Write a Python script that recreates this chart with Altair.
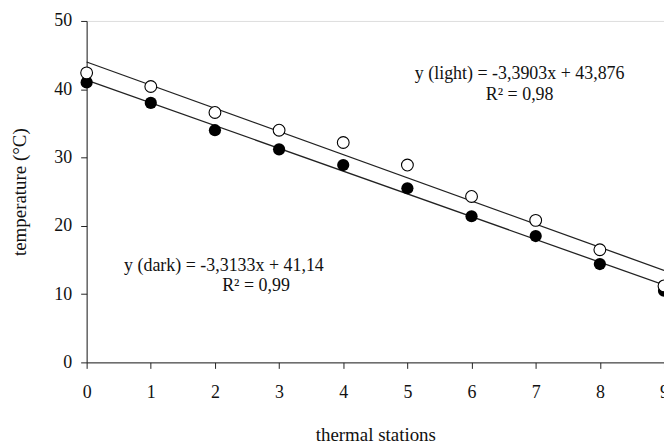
import altair as alt
import pandas as pd

stations = [0, 1, 2, 3, 4, 5, 6, 7, 8, 9]
light = [42.4, 40.4, 36.6, 34.0, 32.2, 28.9, 24.3, 20.8, 16.5, 11.2]
dark = [41.0, 38.0, 34.0, 31.2, 28.9, 25.5, 21.4, 18.5, 14.4, 10.5]

ann_text = ["y (light)  = -3,3903x + 43,876", "R² = 0,98",
            "y (dark) = -3,3133x + 41,14", "R² = 0,99"]
ann_x = [6.75, 6.75, 2.14, 2.64]
ann_y = [42.3, 39.2, 14.1, 11.2]

df = pd.DataFrame({"station": stations, "light": light, "dark": dark})
ann = pd.DataFrame({"text": ann_text, "x": ann_x, "y": ann_y})

FONT = "Liberation Serif"

xs = alt.Scale(domain=[0, 9], nice=False, zero=False)
ys = alt.Scale(domain=[0, 50], nice=False)

xax = alt.Axis(title="thermal stations", values=stations, format="d", grid=False,
               tickSize=6, labelPadding=15, titlePadding=24, labelFontSize=18,
               titleFontSize=19, labelFont=FONT, titleFont=FONT, domainColor="#222",
               tickColor="#222", labelColor="#111", titleColor="#111", labelFlush=False,
               titleFontWeight="normal")
yax = alt.Axis(title="temperature (°C)", values=[0, 10, 20, 30, 40, 50], grid=False,
               tickSize=6, labelPadding=9, titlePadding=24, labelFontSize=18,
               titleFontSize=19, labelFont=FONT, titleFont=FONT, domainColor="#222",
               tickColor="#222", labelColor="#111", titleColor="#111",
               titleFontWeight="normal")

base = alt.Chart(df)

dark_line = base.transform_regression("station", "dark", extent=[0, 9]).mark_line(
    color="#222", strokeWidth=1.3).encode(
    x=alt.X("station:Q", scale=xs, axis=xax), y=alt.Y("dark:Q", scale=ys, axis=yax))
light_line = base.transform_regression("station", "light", extent=[0, 9]).mark_line(
    color="#222", strokeWidth=1.3).encode(
    x=alt.X("station:Q", scale=xs), y=alt.Y("light:Q", scale=ys))

dark_pts = base.mark_point(shape="circle", filled=True, color="black", size=150, opacity=1).encode(
    x=alt.X("station:Q", scale=xs), y=alt.Y("dark:Q", scale=ys))
light_pts = base.mark_point(shape="circle", filled=True, fill="white", stroke="black",
                            strokeWidth=1.1, size=140, opacity=1).encode(
    x=alt.X("station:Q", scale=xs), y=alt.Y("light:Q", scale=ys))

texts = alt.Chart(ann).mark_text(font=FONT, fontSize=18, color="#111", align="center",
                                 baseline="middle").encode(
    x=alt.X("x:Q", scale=xs), y=alt.Y("y:Q", scale=ys), text="text:N")

chart = alt.layer(dark_line, light_line, dark_pts, light_pts, texts).properties(
    width=580, height=343,
    autosize=alt.AutoSizeParams(type="none"),
    padding={"left": 79, "top": 12, "right": 0, "bottom": 88},
).configure_view(stroke=None).configure(background="white")

chart.save("out.html", embed_options={"renderer": "svg", "actions": False})
